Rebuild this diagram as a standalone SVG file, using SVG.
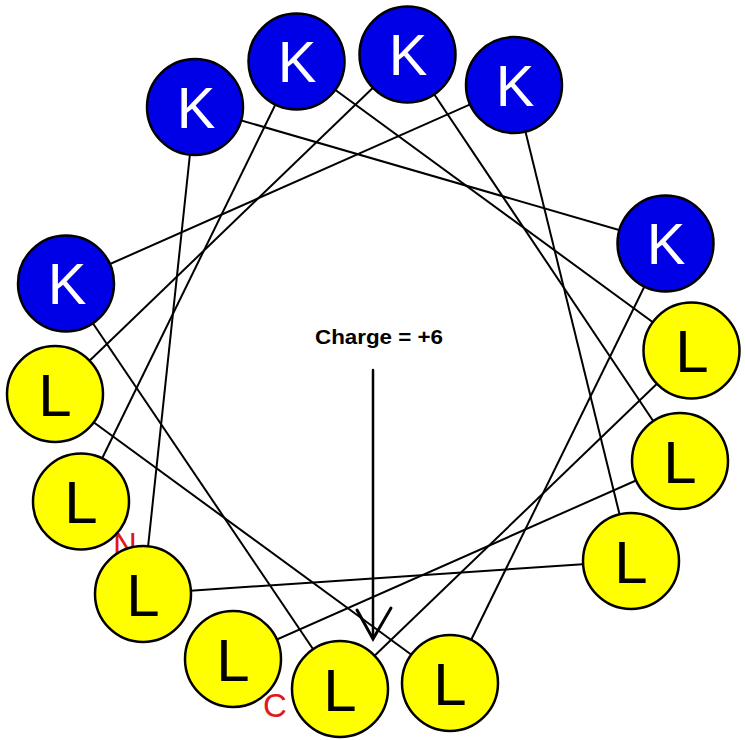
<svg xmlns="http://www.w3.org/2000/svg" width="745" height="740" viewBox="0 0 745 740">
  <style>
    .conn line { stroke: #000; stroke-width: 2; }
    .k circle { fill: #0000e6; stroke: #000; stroke-width: 2.5; }
    .l circle { fill: #ffff00; stroke: #000; stroke-width: 2.5; }
    .k text { fill: #fff; font-family: "Liberation Sans", Arial, sans-serif; font-size: 58px; text-anchor: middle; }
    .l text { fill: #000; font-family: "Liberation Sans", Arial, sans-serif; font-size: 60px; text-anchor: middle; }
    .term { fill: #e01818; font-family: "Liberation Sans", Arial, sans-serif; font-size: 33px; }
    .charge { fill: #000; font-family: "Liberation Sans", Arial, sans-serif; font-size: 20px; font-weight: bold; }
    .arrow { stroke: #000; fill: none; stroke-linecap: round; }
  </style>
  <rect width="745" height="740" fill="#fff"/>

  <g id="connectors" class="conn">
    <line x1="81" y1="501.5" x2="296.5" y2="61.5"/>
    <line x1="296.5" y1="61.5" x2="691.5" y2="350.5"/>
    <line x1="691.5" y1="350.5" x2="340" y2="689"/>
    <line x1="340" y1="689" x2="66" y2="283.5"/>
    <line x1="66" y1="283.5" x2="514" y2="85"/>
    <line x1="514" y1="85" x2="631" y2="561"/>
    <line x1="631" y1="561" x2="143" y2="594"/>
    <line x1="143" y1="594" x2="195" y2="107"/>
    <line x1="195" y1="107" x2="665.5" y2="243.5"/>
    <line x1="665.5" y1="243.5" x2="450" y2="683"/>
    <line x1="450" y1="683" x2="55" y2="394"/>
    <line x1="55" y1="394" x2="407.5" y2="54.5"/>
    <line x1="407.5" y1="54.5" x2="680" y2="461"/>
    <line x1="680" y1="461" x2="233" y2="659"/>
  </g>

  <g id="charge-arrow">
    <line class="arrow" x1="373" y1="370" x2="373" y2="638" stroke-width="2.5"/>
    <polyline class="arrow" points="357,610 373,639 391,608" stroke-width="3"/>
  </g>

  <g id="terminal-labels">
    <text class="term" x="113" y="556">N</text>
    <text class="term" x="263" y="717">C</text>
  </g>

  <g id="res-L2" class="l"><circle cx="81" cy="501.5" r="48"/><text x="81" y="523">L</text></g>
  <g id="res-K2" class="k"><circle cx="296.5" cy="61.5" r="48"/><text x="297" y="82">K</text></g>
  <g id="res-L9" class="l"><circle cx="691.5" cy="350.5" r="48"/><text x="692" y="372">L</text></g>
  <g id="res-L5" class="l"><circle cx="340" cy="689" r="48"/><text x="340" y="711">L</text></g>
  <g id="res-K6" class="k"><circle cx="66" cy="283.5" r="48"/><text x="67" y="304">K</text></g>
  <g id="res-K4" class="k"><circle cx="514" cy="85" r="48"/><text x="515" y="106">K</text></g>
  <g id="res-L7" class="l"><circle cx="631" cy="561" r="48"/><text x="631" y="583">L</text></g>
  <g id="res-L3" class="l"><circle cx="143" cy="594" r="48"/><text x="143" y="616">L</text></g>
  <g id="res-K1" class="k"><circle cx="195" cy="107" r="48"/><text x="196" y="128">K</text></g>
  <g id="res-K5" class="k"><circle cx="665.5" cy="243.5" r="48"/><text x="666" y="264">K</text></g>
  <g id="res-L6" class="l"><circle cx="450" cy="683" r="48"/><text x="450" y="705">L</text></g>
  <g id="res-L1" class="l"><circle cx="55" cy="394" r="48"/><text x="55" y="416">L</text></g>
  <g id="res-K3" class="k"><circle cx="407.5" cy="54.5" r="48"/><text x="408" y="75">K</text></g>
  <g id="res-L8" class="l"><circle cx="680" cy="461" r="48"/><text x="680" y="483">L</text></g>
  <g id="res-L4" class="l"><circle cx="233" cy="659" r="48"/><text x="233" y="681">L</text></g>

  <g id="charge-label">
    <text class="charge" x="315" y="344" textLength="128" lengthAdjust="spacingAndGlyphs">Charge = +6</text>
  </g>
</svg>
